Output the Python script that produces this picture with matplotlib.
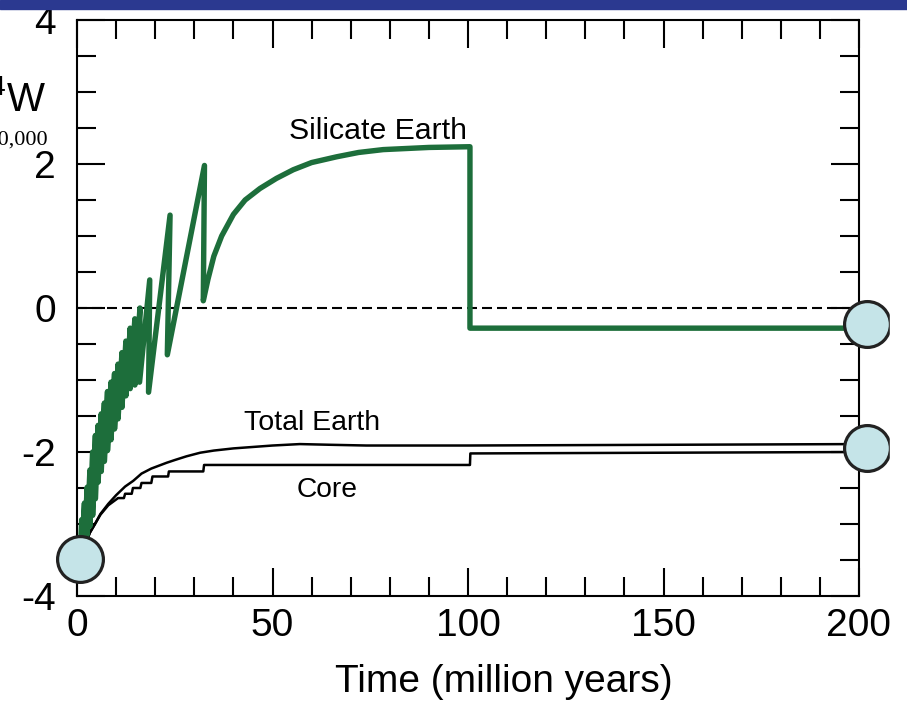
import matplotlib.pyplot as plt
from matplotlib.patches import Rectangle
from matplotlib.ticker import MultipleLocator

plt.rcParams['font.family'] = ['Liberation Sans', 'DejaVu Sans']
plt.rcParams['mathtext.fontset'] = 'custom'
plt.rcParams['mathtext.rm'] = 'Liberation Sans'
plt.rcParams['mathtext.it'] = 'Liberation Sans'
plt.rcParams['axes.unicode_minus'] = False

# silicate Earth: sawtooth (rise, then drop at each impact), then smooth growth and a reset at 100 Myr
silicate_t = [0.8, 1.2, 1.2, 1.9, 1.9, 2.6, 2.6, 3.3, 3.3, 4.0, 4.0, 4.7, 4.7,
              5.4, 5.4, 6.2, 6.2, 7.0, 7.0, 7.8, 7.8, 8.7, 8.7, 9.6, 9.6,
              10.5, 10.5, 11.5, 11.5, 12.5, 12.5, 13.6, 13.6, 14.8, 14.8,
              16.1, 16.0, 18.6, 18.3, 23.8, 23.1, 32.6, 32.3,
              33.5, 35.0, 37.0, 40.0, 43.0, 46.8, 51.0, 55.3, 60.0, 66.4,
              72.0, 78.3, 90.0, 100.5, 100.5, 200.0]
silicate_v = [-3.45, -2.94, -3.40, -2.71, -3.28, -2.49, -3.15, -2.25, -3.03,
              -2.00, -2.88, -1.77, -2.65, -1.63, -2.42, -1.47, -2.27, -1.32,
              -2.13, -1.16, -1.98, -1.03, -1.83, -0.91, -1.68, -0.78, -1.54,
              -0.62, -1.38, -0.46, -1.22, -0.28, -1.12, -0.15, -1.07,
              0.00, -1.03, 0.39, -1.17, 1.29, -0.65, 1.98, 0.10,
              0.40, 0.72, 1.00, 1.30, 1.50, 1.66, 1.80, 1.92, 2.02, 2.10,
              2.16, 2.20, 2.23, 2.24, -0.28, -0.28]

total_t = [0.8, 2.0, 3.3, 4.6, 6.0, 8.0, 10.0, 12.3, 14.4, 16.5, 19.0, 22.9,
           25.1, 28.0, 31.5, 35.0, 40.0, 45.0, 50.0, 57.0, 65.0, 74.0, 100.0,
           150.0, 200.0]
total_v = [-3.50, -3.30, -3.12, -3.00, -2.86, -2.72, -2.60, -2.48, -2.40,
           -2.30, -2.23, -2.15, -2.11, -2.06, -2.01, -1.98, -1.95, -1.93,
           -1.91, -1.89, -1.90, -1.91, -1.91, -1.90, -1.89]

core_t = [0.8, 2.0, 3.3, 4.6, 6.0, 8.0, 10.5, 12.0, 12.3, 14.0, 14.3, 16.2,
          16.5, 19.0, 19.3, 23.3, 23.5, 32.3, 32.5, 100.5, 100.6, 200.0]
core_v = [-3.50, -3.30, -3.12, -3.00, -2.87, -2.74, -2.64, -2.64, -2.58,
          -2.58, -2.50, -2.50, -2.43, -2.43, -2.34, -2.34, -2.27, -2.27,
          -2.18, -2.18, -2.02, -2.00]

circle_t = [0.8, 202, 202]
circle_v = [-3.49, -0.22, -1.94]

fig = plt.figure(figsize=(9.07, 7.01), dpi=100)
ax = fig.add_axes([77/907, 105/701, 782/907, 576/701])

ax.axhline(0, color='black', lw=1.5, ls=(0, (4.8, 2.4)), zorder=1)
ax.plot(core_t, core_v, color='black', lw=1.8, zorder=2)
ax.plot(total_t, total_v, color='black', lw=1.8, zorder=2)
ax.plot(silicate_t, silicate_v, color='#1d6e3b', lw=3.9, zorder=3)
ax.plot(circle_t, circle_v, 'o', ms=33, mfc='#c5e4e8', mec='#222222',
        mew=2.3, clip_on=False, zorder=5)

ax.text(77, 2.35, 'Silicate Earth', fontsize=21.8, ha='center', va='baseline')
ax.text(60.2, -1.69, 'Total Earth', fontsize=20.5, ha='center', va='baseline')
ax.text(63.9, -2.625, 'Core', fontsize=20.3, ha='center', va='baseline')

ax.set_xlim(0, 200)
ax.set_ylim(-4, 4)
ax.set_xticks([0, 50, 100, 150, 200])
ax.set_yticks([-4, -2, 0, 2, 4])
ax.xaxis.set_minor_locator(MultipleLocator(10))
ax.yaxis.set_minor_locator(MultipleLocator(0.5))
ax.tick_params(which='both', direction='in', top=True, right=True, width=1.5)
ax.tick_params(which='major', length=20)
ax.tick_params(which='minor', length=13.5)
ax.tick_params(axis='x', labelsize=28, pad=9)
ax.tick_params(axis='y', labelsize=28, pad=15)
for s in ax.spines.values():
    s.set_linewidth(1.5)

fig.text(504/907, 0.0133, 'Time (million years)', fontsize=28,
         ha='center', va='baseline')

# y label, mostly cut off by the left edge of the picture
fig.text(46/907, (701-111)/701, r'$^{182}$W/$^{184}$W', fontsize=29,
         ha='right', va='baseline')
fig.text(48/907, (701-145)/701, '×10,000', fontsize=16,
         family='Liberation Serif', ha='right', va='baseline')

# cropped right edge and blue title bar
fig.patches.append(Rectangle((890/907, 0), 17/907, 1 - 10/701, transform=fig.transFigure,
                             color='white', zorder=10))
fig.patches.append(Rectangle((0, 1 - 9/701), 1, 9/701, transform=fig.transFigure,
                             color='#2b3990', zorder=11))

fig.savefig('out.png', dpi=100)
